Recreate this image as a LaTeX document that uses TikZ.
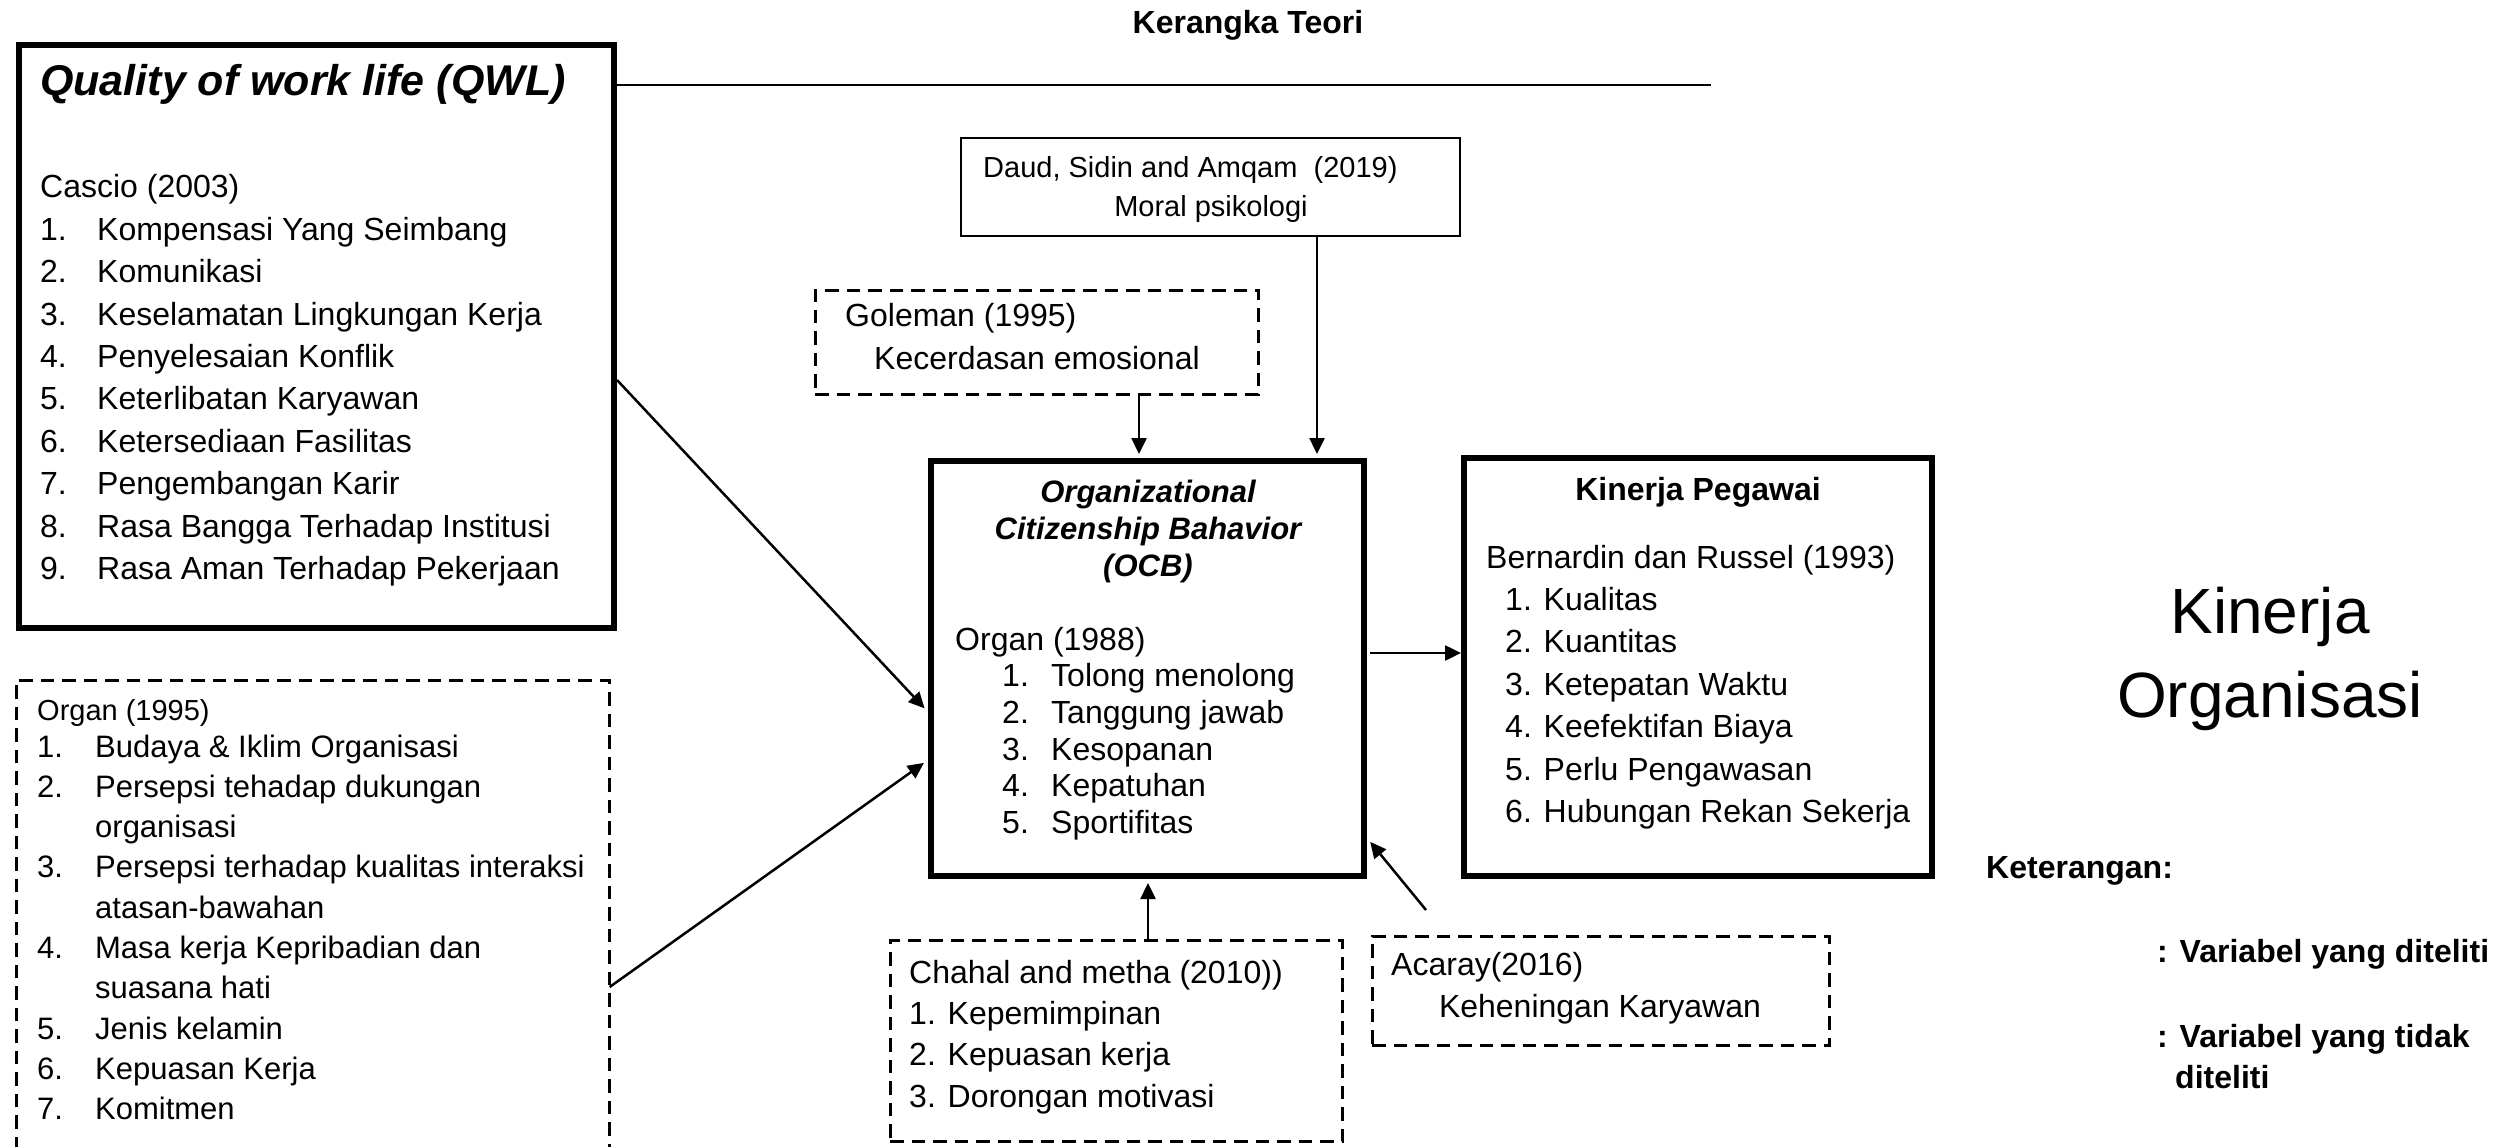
\documentclass[tikz,border=0pt]{standalone}
\usepackage{fontspec}
\setmainfont{Liberation Sans}
\usetikzlibrary{arrows.meta}

% fixed-width slot for list numbers
\newcommand{\numbox}[2]{\makebox[#1pt][l]{#2}}

\begin{document}
\begin{tikzpicture}[x=1pt,y=-1pt,
  thickbox/.style={draw, line width=6pt, inner sep=0, anchor=north west},
  thinbox/.style={draw, line width=2pt, inner sep=0, anchor=north west},
  dashbox/.style={draw, line width=2.7pt, dash pattern=on 13.5pt off 8pt, inner sep=0, anchor=north west},
  dashline/.style={line width=2.7pt, dash pattern=on 13.5pt off 8pt},
  arr/.style={line width=2.5pt, -{Triangle[length=16pt,width=15pt]}},
  txt/.style={inner sep=0, anchor=base west},
  body/.style={font=\fontsize{32}{38}\selectfont},
  small/.style={font=\fontsize{29}{35}\selectfont},
  head/.style={font=\bfseries\fontsize{32}{38}\selectfont},
]
\path[use as bounding box, fill=white] (0,0) rectangle (2519,1147);

% ---------- boxes ----------
\node[thickbox, minimum width=595pt, minimum height=583pt] (qwl) at (16,42) {};
\node[thickbox, minimum width=433pt, minimum height=415pt] (ocb) at (928,458) {};
\node[thickbox, minimum width=468pt, minimum height=418pt] (kin) at (1461,455) {};
\node[thinbox, minimum width=499pt, minimum height=98pt] (daud) at (960,137) {};
\node[dashbox, minimum width=443.3pt, minimum height=104.3pt] (gol) at (814,289) {};
\node[dashbox, minimum width=452.3pt, minimum height=201.3pt] (cha) at (889,939) {};
\node[dashbox, minimum width=457.3pt, minimum height=109.3pt] (aca) at (1371,935) {};
\node[inner sep=0, outer sep=0, anchor=north west, minimum width=593.3pt, minimum height=470pt] (org) at (16.35,680.35) {};
\draw[dashline] (org.south west) -- (org.north west) -- (org.north east) -- (org.south east);

% ---------- title and top rule ----------
\node[txt, anchor=base, head] (title) at (1248,34) {Kerangka Teori};
\coordinate (ruleend) at (1711,85);
\draw[line width=2pt] (qwl.east |- 0,85) -- (ruleend);

% ---------- Quality of work life ----------
\node[txt, font=\bfseries\itshape\fontsize{43}{50}\selectfont] (qwlhead) at (40,96) {Quality of work life (QWL)};
\node[txt] (qwllist) at (40,198) {\parbox[t]{570pt}{\fontsize{32}{42.4}\selectfont
  Cascio (2003)\\
  \numbox{57}{1.}Kompensasi Yang Seimbang\\
  \numbox{57}{2.}Komunikasi\\
  \numbox{57}{3.}Keselamatan Lingkungan Kerja\\
  \numbox{57}{4.}Penyelesaian Konflik\\
  \numbox{57}{5.}Keterlibatan Karyawan\\
  \numbox{57}{6.}Ketersediaan Fasilitas\\
  \numbox{57}{7.}Pengembangan Karir\\
  \numbox{57}{8.}Rasa Bangga Terhadap Institusi\\
  \numbox{57}{9.}Rasa Aman Terhadap Pekerjaan}};

% ---------- Organ (1995) ----------
\node[txt, small] (orghead) at (37,720) {Organ (1995)};
\node[txt] (orglist) at (37,757) {\parbox[t]{570pt}{\fontsize{31}{40.3}\selectfont
  \numbox{58}{1.}Budaya \& Iklim Organisasi\\
  \numbox{58}{2.}Persepsi tehadap dukungan\\
  \hspace*{58pt}organisasi\\
  \numbox{58}{3.}Persepsi terhadap kualitas interaksi\\
  \hspace*{58pt}atasan-bawahan\\
  \numbox{58}{4.}Masa kerja Kepribadian dan\\
  \hspace*{58pt}suasana hati\\
  \numbox{58}{5.}Jenis kelamin\\
  \numbox{58}{6.}Kepuasan Kerja\\
  \numbox{58}{7.}Komitmen}};

% ---------- Daud / Goleman ----------
\node[txt, small] (daudA) at (983,178) {Daud, Sidin and Amqam~ (2019)};
\node[txt, small, anchor=base] (daudB) at (1211,217) {Moral psikologi};
\node[txt, body] (golA) at (845,327) {Goleman (1995)};
\node[txt, body, anchor=base] (golB) at (1037,370) {Kecerdasan emosional};

% ---------- OCB ----------
\node[txt, anchor=base] (ocbhead) at (1148,502) {\parbox[t]{420pt}{\centering\bfseries\itshape\fontsize{31}{37}\selectfont
  Organizational\\Citizenship Bahavior\\(OCB)}};
\node[txt] (ocblist) at (955,650) {\parbox[t]{400pt}{\fontsize{32}{36.7}\selectfont
  Organ (1988)\\
  \hspace*{47pt}\numbox{49}{1.}Tolong menolong\\
  \hspace*{47pt}\numbox{49}{2.}Tanggung jawab\\
  \hspace*{47pt}\numbox{49}{3.}Kesopanan\\
  \hspace*{47pt}\numbox{49}{4.}Kepatuhan\\
  \hspace*{47pt}\numbox{49}{5.}Sportifitas}};

% ---------- Kinerja Pegawai ----------
\node[txt, anchor=base, head] (kinhead) at (1698,500) {Kinerja Pegawai};
\node[txt] (kinlist) at (1486,568) {\parbox[t]{440pt}{\fontsize{32}{42.4}\selectfont
  Bernardin dan Russel (1993)\\
  \hspace*{19pt}1. Kualitas\\
  \hspace*{19pt}2. Kuantitas\\
  \hspace*{19pt}3. Ketepatan Waktu\\
  \hspace*{19pt}4. Keefektifan Biaya\\
  \hspace*{19pt}5. Perlu Pengawasan\\
  \hspace*{19pt}6. Hubungan Rekan Sekerja}};

% ---------- Chahal / Acaray ----------
\node[txt] (chalist) at (909,983) {\parbox[t]{430pt}{\fontsize{32}{41.4}\selectfont
  Chahal and metha (2010))\\
  1. Kepemimpinan\\
  2. Kepuasan kerja\\
  3. Dorongan motivasi}};
\node[txt, body] (acaA) at (1391,975) {Acaray(2016)};
\node[txt, body, anchor=base] (acaB) at (1600,1017) {Keheningan Karyawan};

% ---------- Kinerja Organisasi and legend ----------
\node[txt, anchor=base] (kinorg) at (2270,633) {\parbox[t]{440pt}{\centering\fontsize{64}{84}\selectfont Kinerja\\Organisasi}};
\node[txt, head] (ket) at (1986,878) {Keterangan:};
\node[txt, head] (ketA) at (2157,962) {: Variabel yang diteliti};
\node[txt, head] (ketB) at (2157,1047) {: Variabel yang tidak};
\node[txt, head] (ketC) at (2175,1088) {diteliti};

% ---------- connectors ----------
\draw[arr, shorten >=5pt] (qwl.east |- 0,380) -- (ocb.west |- 0,712);
\draw[arr, shorten >=5pt] (org.east |- 0,987) -- (ocb.west |- 0,760);
\draw[arr, shorten >=4pt] (1139,0 |- gol.south) -- (1139,0 |- ocb.north);
\draw[arr, shorten >=4pt] (1317,0 |- daud.south) -- (1317,0 |- ocb.north);
\draw[arr, shorten >=4pt] (1148,0 |- cha.north) -- (1148,0 |- ocb.south);
\draw[arr, shorten <=3pt] (ocb.east |- 0,653) -- (kin.west |- 0,653);
\coordinate (acatail) at (1426,910);
\draw[arr, shorten >=5pt] (acatail) -- (ocb.east |- 0,838);
\end{tikzpicture}
\end{document}
